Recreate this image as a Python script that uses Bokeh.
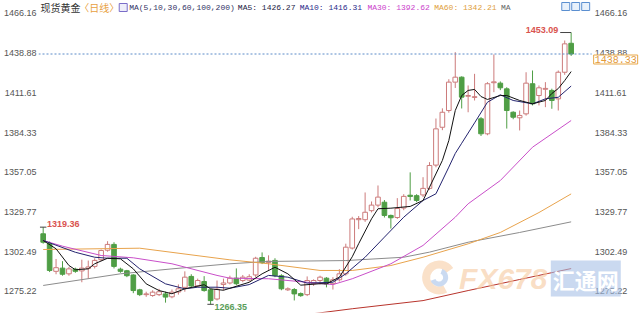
from bokeh.plotting import figure
from bokeh.models import Range1d, LinearAxis, FixedTicker, Label, ColumnDataSource
from bokeh.embed import file_html
from bokeh.resources import INLINE
from bokeh.core.properties import value

# ---------------- data ----------------
opens = [1314.8, 1308.0, 1289.0, 1291.2, 1287.3, 1290.5, 1289.3, 1291.0, 1292.4, 1297.0,
         1303.5, 1307.5, 1290.5, 1289.4, 1286.5, 1276.3, 1273.0, 1272.4, 1273.0, 1273.5,
         1271.5, 1274.8, 1278.0, 1285.5, 1279.0, 1282.0, 1276.3, 1270.0, 1280.0, 1281.0,
         1284.3, 1282.7, 1283.0, 1286.5, 1298.5, 1295.0, 1296.5, 1286.0, 1276.3, 1276.5,
         1273.7, 1273.0, 1280.5, 1282.7, 1284.3, 1280.5, 1283.2, 1287.3, 1305.0, 1324.5,
         1324.5, 1330.7, 1334.5, 1336.5, 1327.4, 1326.0, 1332.5, 1341.3, 1341.0, 1341.5,
         1346.0, 1362.0, 1388.0, 1399.5, 1419.0, 1422.4, 1409.3, 1408.5, 1393.8, 1383.5,
         1418.6, 1418.3, 1414.4, 1398.3, 1394.5, 1397.2, 1417.9, 1409.8, 1414.1, 1413.3,
         1407.5, 1425.8, 1445.7]
closes = [1309.0, 1289.6, 1291.5, 1287.0, 1290.7, 1289.0, 1291.2, 1292.0, 1296.5, 1303.3,
          1307.5, 1292.4, 1289.0, 1286.0, 1275.8, 1273.0, 1273.5, 1274.7, 1275.0, 1271.3,
          1274.7, 1277.0, 1285.0, 1279.0, 1282.7, 1275.8, 1268.9, 1276.7, 1281.0, 1284.3,
          1280.5, 1285.0, 1285.3, 1298.0, 1295.0, 1296.0, 1286.0, 1277.0, 1277.0, 1273.5,
          1272.3, 1282.7, 1282.7, 1285.0, 1280.4, 1283.2, 1287.3, 1305.6, 1325.0, 1325.3,
          1329.6, 1334.5, 1340.0, 1327.4, 1325.8, 1332.2, 1340.5, 1340.5, 1337.7, 1346.0,
          1361.7, 1386.9, 1398.3, 1419.0, 1422.4, 1408.7, 1409.8, 1409.0, 1383.5, 1417.9,
          1419.2, 1415.1, 1399.5, 1394.9, 1396.1, 1418.3, 1404.1, 1415.1, 1414.7, 1406.4,
          1425.8, 1445.3, 1438.33]
highs = [1319.36, 1309.5, 1297.5, 1296.0, 1292.0, 1291.5, 1297.0, 1296.4, 1298.0, 1304.0,
         1309.7, 1309.0, 1291.5, 1290.0, 1287.0, 1277.0, 1275.0, 1276.0, 1277.0, 1275.0,
         1276.5, 1280.0, 1289.0, 1287.0, 1284.0, 1285.7, 1277.0, 1282.7, 1284.0, 1286.0,
         1291.0, 1286.5, 1287.0, 1299.0, 1302.0, 1300.0, 1298.0, 1287.0, 1278.0, 1277.5,
         1274.5, 1285.5, 1283.5, 1286.0, 1285.0, 1285.0, 1290.5, 1308.0, 1326.5, 1327.0,
         1343.2, 1337.0, 1348.0, 1338.0, 1328.0, 1339.3, 1342.0, 1357.0, 1342.0, 1353.7,
         1364.0, 1394.0, 1401.0, 1421.0, 1439.6, 1423.0, 1416.7, 1424.7, 1395.0, 1419.0,
         1438.0, 1419.5, 1415.5, 1399.0, 1399.5, 1425.8, 1427.0, 1416.7, 1419.0, 1414.5,
         1427.0, 1447.6, 1453.09]
lows = [1308.0, 1288.5, 1287.0, 1286.0, 1286.0, 1288.0, 1281.5, 1284.0, 1291.0, 1296.0,
        1302.5, 1291.0, 1288.0, 1285.0, 1274.0, 1272.0, 1271.5, 1271.5, 1272.0, 1267.5,
        1270.5, 1273.0, 1275.0, 1278.0, 1278.0, 1275.0, 1266.35, 1269.0, 1276.0, 1280.0,
        1279.5, 1281.5, 1282.0, 1285.0, 1294.0, 1290.0, 1285.0, 1276.0, 1275.5, 1269.0,
        1271.5, 1272.0, 1279.0, 1280.0, 1278.0, 1276.5, 1282.0, 1286.0, 1304.0, 1318.0,
        1323.0, 1329.5, 1333.0, 1326.0, 1318.4, 1325.0, 1331.0, 1337.7, 1336.5, 1340.0,
        1345.0, 1360.5, 1386.0, 1398.0, 1415.0, 1400.9, 1398.3, 1406.4, 1382.0, 1382.5,
        1412.1, 1413.5, 1387.1, 1393.5, 1385.8, 1396.0, 1403.0, 1403.0, 1401.8, 1400.7,
        1399.5, 1424.0, 1437.0]

ma5_x = [0, 2, 4, 5, 7, 8, 10, 12, 14, 16, 18, 20, 22, 25, 26, 28, 32, 34, 36, 38, 40, 43,
         44, 46, 48, 49, 51, 52, 54, 57, 59, 60, 62, 63, 64, 65, 66, 67, 68, 69, 71, 72, 74,
         76, 78, 79, 80, 81, 82]
ma5_y = [1310.2, 1304.5, 1293.0, 1290.1, 1290.7, 1294.2, 1298.0, 1297.6, 1290.7, 1280.4,
         1275.8, 1273.6, 1277.0, 1279.8, 1277.0, 1276.0, 1281.5, 1287.3, 1291.8, 1287.3,
         1279.5, 1280.5, 1280.4, 1285.0, 1299.0, 1308.0, 1325.1, 1332.0, 1332.4, 1333.6,
         1337.7, 1346.8, 1365.2, 1378.9, 1399.5, 1409.8, 1413.3, 1414.0, 1409.1, 1407.1,
         1409.8, 1409.8, 1406.4, 1404.1, 1406.4, 1411.2, 1414.6, 1420.1, 1426.27]
ma10_x = [0, 5, 8, 10, 13, 15, 19, 22, 24, 27, 29, 32, 35, 38, 41, 45, 47, 50, 53, 56, 59,
          61, 63, 64, 65, 67, 69, 71, 73, 76, 78, 80, 82]
ma10_y = [1310.2, 1302.1, 1298.7, 1298.0, 1298.0, 1290.7, 1280.4, 1277.0, 1278.1, 1278.1,
          1277.4, 1279.9, 1286.2, 1285.0, 1280.9, 1281.5, 1287.3, 1298.7, 1312.5, 1326.2,
          1337.7, 1342.3, 1360.6, 1370.0, 1377.0, 1391.0, 1405.2, 1410.3, 1406.4, 1404.1,
          1407.5, 1408.6, 1416.31]
ma30_x = [0, 3, 9, 14, 20, 27, 29, 35, 41, 45, 48, 54, 59, 64, 66, 71, 76, 82]
ma30_y = [1310.2, 1306.3, 1299.9, 1298.3, 1294.2, 1286.2, 1284.3, 1283.9, 1281.5, 1279.9,
          1283.9, 1294.2, 1306.8, 1326.2, 1335.4, 1351.4, 1374.3, 1392.62]
ma60_x = [0, 15, 29, 35, 43, 48, 54, 59, 66, 71, 77, 82]
ma60_y = [1304.0, 1304.9, 1296.9, 1294.2, 1289.6, 1289.6, 1293.0, 1298.7, 1307.9, 1315.7,
          1329.4, 1342.21]
ma100_x = [0, 12, 20, 29, 35, 47, 56, 60, 66, 74, 82]
ma100_y = [1279.3, 1287.3, 1290.7, 1294.2, 1295.8, 1296.4, 1298.7, 1302.2, 1309.0, 1315.7,
           1323.0]
ma200_x = [40, 48, 59, 66, 74, 82]
ma200_y = [1258.8, 1263.3, 1268.9, 1275.8, 1283.4, 1290.9]

tick_values = [1275.22, 1302.49, 1329.77, 1357.05, 1384.33, 1411.61, 1438.88, 1466.16]
tick_labels = ["1275.22", "1302.49", "1329.77", "1357.05", "1384.33", "1411.61", "1438.88", "1466.16"]

title_text = "现货黄金"
period_text = "〈日线〉"
ma_param_text = "MA(5,10,30,60,100,200)"
ma_names = ["MA5", "MA10", "MA30", "MA60", "MA"]
ma_last = [1426.27, 1416.31, 1392.62, 1342.21, None]

# ---------------- layout / styles ----------------
W, H = 640, 320
FL, FT, FB = 36, 0, 312          # frame left / top / bottom (px)
CHART_R = 591                    # right edge of the price area (px)
IDX0_PX, PX_PER_IDX = 40.7, 6.46
Y_TOP, Y_BOT = 1475.09, 1260.72

UP = "#cc7b7b"
DOWN = "#4f9e45"
C_MA5, C_MA10, C_MA30, C_MA60, C_MA100, C_MA200 = "#111111", "#23236e", "#c94fc9", "#e8a34c", "#8c8c8c", "#b8342c"


def dx(px):
    return (px - IDX0_PX) / PX_PER_IDX


def dy(py):
    return Y_TOP - (py - FT) * (Y_TOP - Y_BOT) / (FB - FT)


p = figure(width=W, height=H, output_backend="svg", toolbar_location=None,
           x_range=Range1d(dx(FL), dx(W)), y_range=Range1d(Y_BOT, Y_TOP),
           x_axis_location=None, y_axis_location=None,
           min_border_left=FL, min_border_right=0, min_border_top=FT,
           min_border_bottom=H - FB)
p.outline_line_color = None
p.background_fill_color = "white"
p.border_fill_color = "white"
p.xgrid.visible = False
p.ygrid.visible = False

ax = LinearAxis(ticker=FixedTicker(ticks=tick_values),
                major_label_overrides={v: s for v, s in zip(tick_values, tick_labels)})
ax.axis_line_color = None
ax.major_tick_line_color = None
ax.minor_tick_line_color = None
ax.major_tick_out = 0
ax.major_tick_in = 0
ax.major_label_standoff = 2
ax.major_label_text_font = "Liberation Sans"
ax.major_label_text_font_size = "9px"
ax.major_label_text_color = "#555555"
p.add_layout(ax, "left")

# right-hand price scale (drawn as text next to the price area)
p.text(x=[dx(CHART_R + 3)] * len(tick_values), y=tick_values, text=tick_labels,
       text_font=value("Liberation Sans"), text_font_size=value("9px"),
       text_color="#555555", text_baseline="middle", text_align="left")

# ---------------- watermark ----------------
p.annular_wedge(x=[dx(438)], y=[dy(277)], inner_radius=9, outer_radius=17,
                inner_radius_units="screen", outer_radius_units="screen",
                start_angle=0.6, end_angle=5.2, fill_color="#f5c89c", fill_alpha=0.55,
                line_color=None)
p.annular_wedge(x=[dx(438)], y=[dy(277)], inner_radius=4, outer_radius=9,
                inner_radius_units="screen", outer_radius_units="screen",
                start_angle=3.5, end_angle=7.5, fill_color="#9fbce6", fill_alpha=0.55,
                line_color=None)
p.add_layout(Label(x=dx(458), y=dy(278), text="FX678", text_baseline="middle",
                   text_font="Liberation Sans", text_font_style="bold italic",
                   text_font_size="30px", text_color="#f6c99e", text_alpha=0.6))
p.add_layout(Label(x=dx(550), y=dy(278), text="汇通网", text_baseline="middle",
                   text_font="Noto Sans CJK SC", text_font_style="bold",
                   text_font_size="22px", text_color="white",
                   background_fill_color="#a7c0e6", background_fill_alpha=0.6,
                   padding=2))

# ---------------- candles ----------------
n = len(closes)
idx = list(range(n))
is_up = [c >= o for o, c in zip(opens, closes)]
src = ColumnDataSource(dict(
    x=idx, h=highs, l=lows,
    top=[max(o, c) for o, c in zip(opens, closes)],
    bottom=[min(o, c) for o, c in zip(opens, closes)],
    lc=[UP if u else DOWN for u in is_up],
    fc=["white" if u else DOWN for u in is_up],
))
p.segment(x0="x", x1="x", y0="h", y1="l", line_color="lc", line_width=1, source=src)
p.vbar(x="x", width=0.72, top="top", bottom="bottom", fill_color="fc",
       line_color="lc", line_width=1, source=src)

# ---------------- moving averages ----------------
p.line(ma200_x, ma200_y, line_color=C_MA200, line_width=1)
p.line(ma100_x, ma100_y, line_color=C_MA100, line_width=1)
p.line(ma60_x, ma60_y, line_color=C_MA60, line_width=1)
p.line(ma30_x, ma30_y, line_color=C_MA30, line_width=1)
p.line(ma10_x, ma10_y, line_color=C_MA10, line_width=1)
p.line(ma5_x, ma5_y, line_color=C_MA5, line_width=1)

# last price line + marker box
last = closes[-1]
p.segment(x0=[dx(FL)], x1=[dx(CHART_R)], y0=[last], y1=[last], line_color="#5a8ac8",
          line_dash="2 2", line_width=1)
p.add_layout(Label(x=dx(CHART_R + 2), y=last, text=f"{last:.2f}", text_baseline="top",
                   text_font="Liberation Mono", text_font_size="10px",
                   text_color="#e39a3a", border_line_color="#e8a848",
                   background_fill_color="white", padding=1, y_offset=-1))

# extremes
ih = max(range(n), key=lambda i: highs[i])
il = min(range(n), key=lambda i: lows[i])
i0 = 0
p.segment(x0=[ih - 1.7], x1=[ih], y0=[highs[ih]], y1=[highs[ih]], line_color="#444444")
p.add_layout(Label(x=ih - 2.0, y=highs[ih], text=f"{highs[ih]:.2f}", text_align="right",
                   text_baseline="bottom", text_font="Liberation Sans",
                   text_font_style="bold", text_font_size="9px", text_color="#d9534f"))
p.segment(x0=[i0 - 0.5], x1=[i0 + 0.5], y0=[highs[i0]], y1=[highs[i0]], line_color="#444444")
p.add_layout(Label(x=i0 + 0.6, y=highs[i0], text=f"{highs[i0]:.2f}", text_align="left",
                   text_baseline="bottom", text_font="Liberation Sans",
                   text_font_style="bold", text_font_size="9px", text_color="#d9534f"))
p.segment(x0=[il - 0.5], x1=[il + 0.5], y0=[lows[il]], y1=[lows[il]], line_color="#444444")
p.add_layout(Label(x=il + 0.6, y=lows[il], text=f"{lows[il]:.2f}", text_align="left",
                   text_baseline="top", text_font="Liberation Sans",
                   text_font_style="bold", text_font_size="9px", text_color="#5a9e5a"))

# ---------------- header ----------------
HY = dy(7)
p.add_layout(Label(x=dx(38), y=HY, text=title_text, text_baseline="middle",
                   text_font="Noto Sans CJK SC", text_font_size="10px", text_color="#333333"))
p.add_layout(Label(x=dx(77), y=HY, text=period_text, text_baseline="middle",
                   text_font="Noto Sans CJK SC", text_font_size="10px", text_color="#e8a040"))
p.quad(left=[dx(117)], right=[dx(125)], top=[dy(3)], bottom=[dy(11)],
       fill_color="#eeeefa", line_color="#7a6cc8")
p.add_layout(Label(x=dx(127), y=HY, text=ma_param_text, text_baseline="middle",
                   text_font="Liberation Mono", text_font_size="8px", text_color="#333366"))
hdr_x = [236, 298, 366, 433, 500]
hdr_c = ["#222244", "#2a2a8a", "#cc44cc", "#e0a040", "#666666"]
for nm, val, xp, col in zip(ma_names, ma_last, hdr_x, hdr_c):
    t = nm if val is None else f"{nm}: {val:.2f}"
    p.add_layout(Label(x=dx(xp), y=HY, text=t, text_baseline="middle",
                       text_font="Liberation Mono", text_font_size="8px", text_color=col))
for xl in (561, 571, 581):
    p.quad(left=[dx(xl)], right=[dx(xl + 8)], top=[dy(2)], bottom=[dy(10)],
           fill_color="#e8f1fb", line_color="#5b8fd0")

open("out.html", "w").write(file_html(p, INLINE))
